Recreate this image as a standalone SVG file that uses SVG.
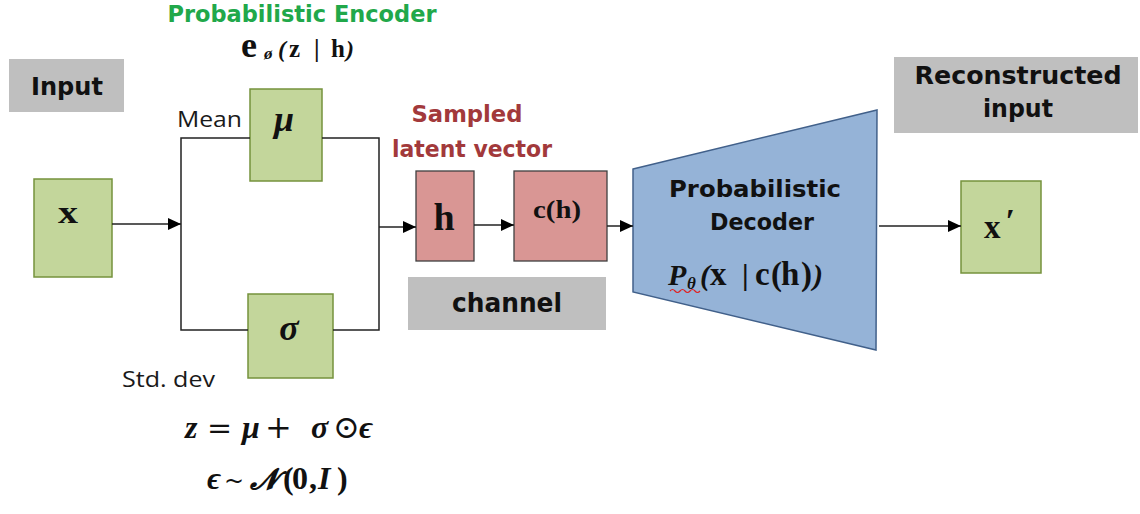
<svg xmlns="http://www.w3.org/2000/svg" width="1140" height="514" viewBox="0 0 1140 514">
<style>
.lbl{font-family:"DejaVu Sans","Liberation Sans",sans-serif;font-weight:bold;text-anchor:middle}
.cap{font-family:"Open Sans","Liberation Sans",sans-serif;fill:#1a1a1a}
.gray{fill:#bfbfbf}
.green{fill:#c3d69b;stroke:#76923c;stroke-width:1.5}
.pink{fill:#d99694;stroke:#3f3f3f;stroke-width:1.3}
.m{font-family:"Liberation Serif","DejaVu Serif",serif;font-weight:bold;fill:#111}
.mi{font-family:"Liberation Serif","DejaVu Serif",serif;font-weight:bold;font-style:italic;fill:#111}
.op{font-family:"DejaVu Serif",serif;font-weight:normal;fill:#111}
.wire{fill:none;stroke:#222;stroke-width:1.5}
</style>
<defs>
<marker id="arr" markerUnits="userSpaceOnUse" markerWidth="14" markerHeight="12" refX="13" refY="6" orient="auto">
<path d="M0,0 L13,6 L0,12 Z" fill="#000"/>
</marker>
</defs>

<g id="title">
<text class="lbl" x="302" y="22" font-size="23" fill="#21a84a" textLength="269" lengthAdjust="spacingAndGlyphs">Probabilistic Encoder</text>
<text y="57"><tspan class="m" x="241" font-size="36">e</tspan><tspan class="mi" x="264" y="59" font-size="17">ø</tspan><tspan class="mi" x="278" y="57" font-size="24">(</tspan><tspan class="m" x="289" font-size="25">z</tspan><tspan class="m" x="314" font-size="25">|</tspan><tspan class="m" x="331" font-size="25">h</tspan><tspan class="mi" x="346" font-size="24">)</tspan></text>
</g>

<g id="input-label">
<rect class="gray" x="9" y="59" width="115" height="53"/>
<text class="lbl" x="67" y="95" font-size="25" fill="#111" textLength="72" lengthAdjust="spacingAndGlyphs">Input</text>
</g>

<g id="node-x">
<rect class="green" x="34" y="179" width="78" height="98"/>
<text class="m" x="68" y="223" font-size="32" text-anchor="middle" textLength="20" lengthAdjust="spacingAndGlyphs">x</text>
</g>

<g id="node-mu">
<rect class="green" x="250" y="89" width="72" height="92"/>
<text class="mi" x="284" y="131" font-size="36" text-anchor="middle">μ</text>
</g>
<text class="cap" x="177" y="127" font-size="21" textLength="65" lengthAdjust="spacingAndGlyphs">Mean</text>

<g id="node-sigma">
<rect class="green" x="248" y="294" width="85" height="84"/>
<text class="mi" x="289" y="340" font-size="36" text-anchor="middle">σ</text>
</g>
<text class="cap" x="122" y="387" font-size="21" textLength="93" lengthAdjust="spacingAndGlyphs">Std. dev</text>

<g id="sampled-label">
<text class="lbl" x="467" y="122" font-size="23" fill="#a2393b" textLength="111" lengthAdjust="spacingAndGlyphs">Sampled</text>
<text class="lbl" x="472" y="157" font-size="23" fill="#a2393b" textLength="160" lengthAdjust="spacingAndGlyphs">latent vector</text>
</g>

<g id="node-h">
<rect class="pink" x="416" y="171" width="58" height="90"/>
<text class="m" x="444" y="230" font-size="38" text-anchor="middle">h</text>
</g>

<g id="node-ch">
<rect class="pink" x="514" y="171" width="93" height="90"/>
<text class="m" x="557" y="218" font-size="26" text-anchor="middle" textLength="48" lengthAdjust="spacingAndGlyphs">c(h)</text>
</g>

<g id="channel-label">
<rect class="gray" x="408" y="277" width="198" height="53"/>
<text class="lbl" x="507" y="312" font-size="26" fill="#111" textLength="110" lengthAdjust="spacingAndGlyphs">channel</text>
</g>

<g id="decoder">
<path d="M633,169 L877,110 L876,350 L633,292 Z" fill="#95b3d7" stroke="#41608a" stroke-width="1.5"/>
<text class="lbl" x="755" y="197" font-size="23" fill="#111" textLength="172" lengthAdjust="spacingAndGlyphs">Probabilistic</text>
<text class="lbl" x="762" y="230" font-size="23" fill="#111" textLength="104" lengthAdjust="spacingAndGlyphs">Decoder</text>
<text y="285"><tspan class="mi" x="668" font-size="30">P</tspan><tspan class="mi" x="687" y="289" font-size="17">θ</tspan><tspan class="mi" x="700" y="285" font-size="30">(</tspan><tspan class="m" x="710" font-size="33">x</tspan><tspan class="m" x="742" font-size="30">|</tspan><tspan class="m" x="755" font-size="33">c</tspan><tspan class="m" x="771" font-size="33">(</tspan><tspan class="m" x="781" font-size="33">h</tspan><tspan class="m" x="801" font-size="33">)</tspan><tspan class="mi" x="813" font-size="30">)</tspan></text>
<path d="M670,291 q2.5,-3 5,0 t5,0 t5,0 t5,0 t5,0 t5,0" fill="none" stroke="#e02020" stroke-width="1.2"/>
</g>

<g id="recon-label">
<rect class="gray" x="894" y="57" width="244" height="76"/>
<text class="lbl" x="1018" y="84" font-size="24" fill="#111" textLength="207" lengthAdjust="spacingAndGlyphs">Reconstructed</text>
<text class="lbl" x="1018" y="117" font-size="24" fill="#111" textLength="70" lengthAdjust="spacingAndGlyphs">input</text>
</g>

<g id="node-xprime">
<rect class="green" x="961" y="181" width="80" height="92"/>
<text class="m" x="984" y="238" font-size="33">x</text>
<text class="mi" x="1005" y="232" font-size="34">′</text>
</g>

<g id="formulas">
<text y="438" font-size="32"><tspan class="mi" x="185">z</tspan><tspan class="op" x="207" font-size="30">=</tspan><tspan class="mi" x="242">μ</tspan><tspan class="op" x="265" font-size="32">+</tspan><tspan class="mi" x="311">σ</tspan><tspan class="op" x="333" font-size="32">⊙</tspan><tspan class="mi" x="359">ϵ</tspan></text>
<text y="489" font-size="32"><tspan class="mi" x="207">ϵ</tspan><tspan class="op" x="224" font-size="24">~</tspan><tspan class="mi" x="250" font-family="DejaVu Sans,serif" font-size="29">𝓝</tspan><tspan class="m" x="283">(</tspan><tspan class="m" x="292">0</tspan><tspan class="m" x="309">,</tspan><tspan class="mi" x="318">I</tspan><tspan class="m" x="337">)</tspan></text>
</g>

<g id="connectors">
<line class="wire" x1="112" y1="224" x2="181" y2="224" marker-end="url(#arr)"/>
<polyline class="wire" points="250,138 181,138 181,330 248,330"/>
<polyline class="wire" points="322,138 379,138 379,330 333,330"/>
<line class="wire" x1="379" y1="227" x2="416" y2="227" marker-end="url(#arr)"/>
<line class="wire" x1="474" y1="225" x2="514" y2="225" marker-end="url(#arr)"/>
<line class="wire" x1="607" y1="226" x2="633" y2="226" marker-end="url(#arr)"/>
<line class="wire" x1="879" y1="226" x2="961" y2="226" marker-end="url(#arr)"/>
</g>
</svg>
